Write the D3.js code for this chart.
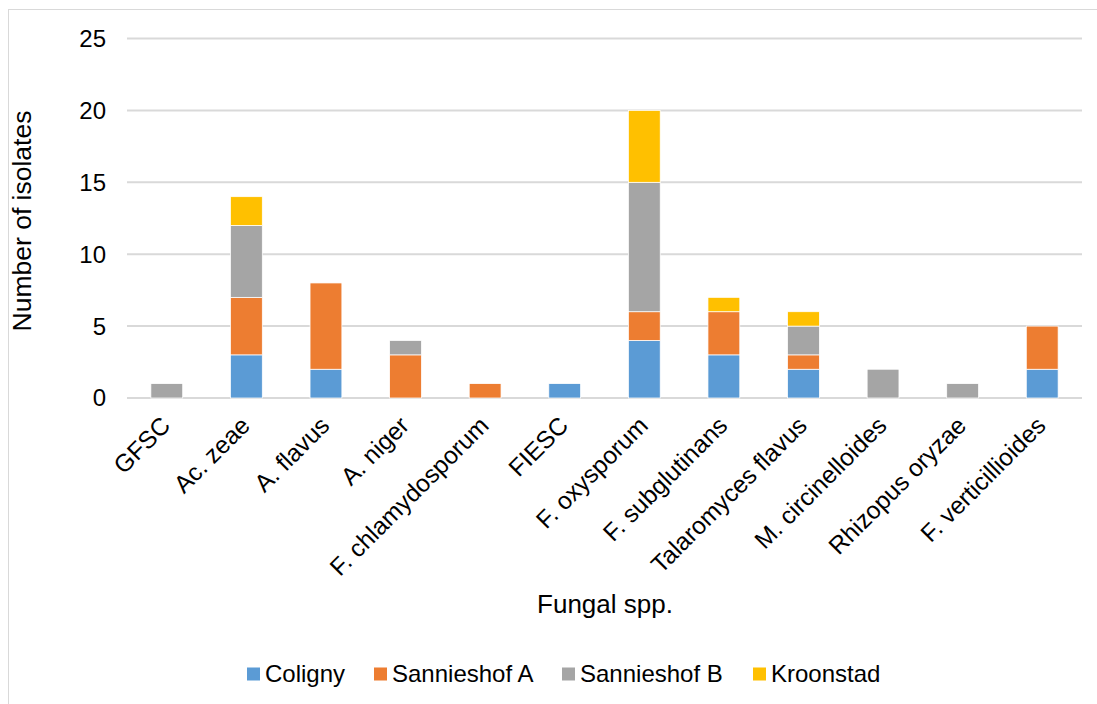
<!DOCTYPE html>
<html>
<head>
<meta charset="utf-8">
<script src="https://cdn.jsdelivr.net/npm/d3@7"></script>
<style>
  body { margin: 0; background: #fff; }
  svg text { font-family: "Liberation Sans", Arial, sans-serif; fill: #000; }
</style>
</head>
<body>
<svg id="chart" width="1097" height="704"></svg>
<script>
// Fungal species found per sampling site
const species = ["GFSC", "Ac. zeae", "A. flavus", "A. niger", "F. chlamydosporum", "FIESC",
  "F. oxysporum", "F. subglutinans", "Talaromyces flavus", "M. circinelloides",
  "Rhizopus oryzae", "F. verticillioides"];
const sites = ["Coligny", "Sannieshof A", "Sannieshof B", "Kroonstad"];
const coligny      = [0, 3, 2, 0, 0, 1, 4, 3, 2, 0, 0, 2];
const sannieshofA  = [0, 4, 6, 3, 1, 0, 2, 3, 1, 0, 0, 3];
const sannieshofB  = [1, 5, 0, 1, 0, 0, 9, 0, 2, 2, 1, 0];
const kroonstad    = [0, 2, 0, 0, 0, 0, 5, 1, 1, 0, 0, 0];
const yTicks = [0, 5, 10, 15, 20, 25];
const colors = ["#5B9BD5", "#ED7D31", "#A5A5A5", "#FFC000"];

const rows = species.map((s, i) => ({
  species: s,
  "Coligny": coligny[i],
  "Sannieshof A": sannieshofA[i],
  "Sannieshof B": sannieshofB[i],
  "Kroonstad": kroonstad[i]
}));

const svg = d3.select("#chart");

// outer chart frame
svg.append("rect")
  .attr("x", 8.5).attr("y", 9.5).attr("width", 1100).attr("height", 710)
  .attr("fill", "none").attr("stroke", "#D9D9D9").attr("stroke-width", 1);

const plotLeft = 127, plotRight = 1082, plotTop = 38.5, plotBottom = 398;

const x = d3.scaleBand().domain(species).range([plotLeft, plotRight]).paddingInner(0.6).paddingOuter(0.3);
const y = d3.scaleLinear().domain([0, 25]).range([plotBottom, plotTop]);
const color = d3.scaleOrdinal().domain(sites).range(colors);

// gridlines
svg.append("g")
  .selectAll("line")
  .data(yTicks)
  .join("line")
  .attr("x1", plotLeft).attr("x2", plotRight)
  .attr("y1", d => y(d)).attr("y2", d => y(d))
  .attr("stroke", "#D9D9D9").attr("stroke-width", 2);

// y tick labels
svg.append("g")
  .selectAll("text")
  .data(yTicks)
  .join("text")
  .attr("x", 106).attr("y", d => y(d))
  .attr("dy", "0.35em")
  .attr("text-anchor", "end")
  .attr("font-size", 24)
  .text(d => d);

// stacked bars
const stack = d3.stack().keys(sites)(rows);
svg.append("g")
  .selectAll("g")
  .data(stack)
  .join("g")
  .attr("fill", d => color(d.key))
  .selectAll("rect")
  .data(d => d)
  .join("rect")
  .attr("x", d => x(d.data.species))
  .attr("width", x.bandwidth())
  .attr("y", d => y(d[1]))
  .attr("height", d => y(d[0]) - y(d[1]))
  .attr("stroke", "#fff")
  .attr("stroke-width", 0.75);

// category labels, rotated
svg.append("g")
  .selectAll("text")
  .data(species)
  .join("text")
  .attr("transform", d => `translate(${x(d) + x.bandwidth() / 2 - 1},${421}) rotate(-45)`)
  .attr("dy", "0.35em")
  .attr("text-anchor", "end")
  .attr("font-size", 24.5)
  .text(d => d);

// axis titles
svg.append("text")
  .attr("transform", "translate(31,221) rotate(-90)")
  .attr("text-anchor", "middle")
  .attr("font-size", 26.5)
  .text("Number of isolates");

svg.append("text")
  .attr("x", 605).attr("y", 613)
  .attr("text-anchor", "middle")
  .attr("font-size", 26)
  .text("Fungal spp.");

// legend
const legendX = [247, 374, 562, 753];
const legend = svg.append("g")
  .selectAll("g")
  .data(sites)
  .join("g")
  .attr("transform", (d, i) => `translate(${legendX[i]},674)`);
legend.append("rect")
  .attr("x", 0).attr("y", -6.5).attr("width", 13).attr("height", 13)
  .attr("fill", d => color(d));
legend.append("text")
  .attr("x", 18).attr("y", 0).attr("dy", "0.35em")
  .attr("font-size", 24)
  .text(d => d);
</script>
</body>
</html>
